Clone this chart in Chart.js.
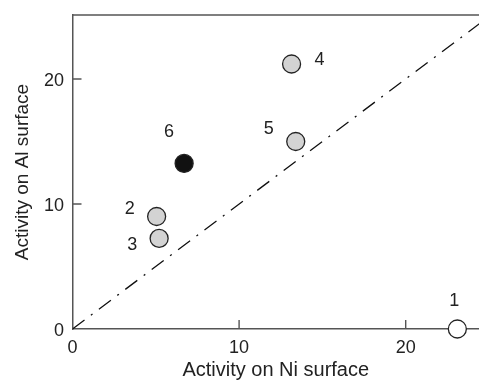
<!DOCTYPE html>
<html>
<head>
<meta charset="utf-8">
<script src="https://cdn.jsdelivr.net/npm/chart.js@4.4.1/dist/chart.umd.min.js"></script>
<style>
  html, body { margin: 0; padding: 0; background: #fff; }
  #wrap { width: 479px; height: 380px; }
</style>
</head>
<body>
<div id="wrap"><canvas id="activityChart" width="479" height="380"></canvas></div>
<script>
// Activity of each sample on the two surfaces
const sampleLabels = ['1', '2', '3', '4', '5', '6'];
const niActivity = [23.1, 5.05, 5.2, 13.15, 13.4, 6.7];
const alActivity = [0, 9.0, 7.25, 21.2, 15.0, 13.25];
const pointFills = ['#ffffff', '#d3d3d3', '#d3d3d3', '#d3d3d3', '#d3d3d3', '#111111'];

// y = x reference line
const parityLine = [0, 25];

// axis ticks
const xTicks = [0, 10, 20];
const yTicks = [0, 10, 20];

// where each number sits relative to its circle (px)
const labelOffsets = [[-3, -28], [-27, -7], [-27, 7], [28, -4], [-27, -12], [-15, -31]];

const FONT = "'Liberation Sans', Arial, Helvetica, sans-serif";
const AXIS_COLOR = '#555';

const innerTicks = {
    id: 'innerTicks',
    afterDatasetsDraw(chart) {
        const ctx = chart.ctx;
        const area = chart.chartArea;
        const x = chart.scales.x, y = chart.scales.y;
        ctx.save();
        ctx.strokeStyle = AXIS_COLOR;
        ctx.lineWidth = 1.4;
        ctx.beginPath();
        xTicks.forEach(v => {
            if (v === 0) return;
            const px = x.getPixelForValue(v);
            ctx.moveTo(px, area.bottom);
            ctx.lineTo(px, area.bottom - 9);
        });
        yTicks.forEach(v => {
            if (v === 0) return;
            const py = y.getPixelForValue(v);
            ctx.moveTo(area.left, py);
            ctx.lineTo(area.left + 9, py);
        });
        // top frame line
        ctx.moveTo(area.left, area.top);
        ctx.lineTo(area.right, area.top);
        ctx.stroke();
        ctx.restore();
    }
};

const numberLabels = {
    id: 'numberLabels',
    afterDatasetsDraw(chart) {
        const ctx = chart.ctx;
        const meta = chart.getDatasetMeta(1);
        ctx.save();
        ctx.font = '18px ' + FONT;
        ctx.fillStyle = '#222';
        ctx.textAlign = 'center';
        ctx.textBaseline = 'middle';
        meta.data.forEach((pt, i) => {
            const off = labelOffsets[i];
            ctx.fillText(sampleLabels[i], pt.x + off[0], pt.y + off[1]);
        });
        ctx.restore();
    }
};

const ctx = document.getElementById('activityChart').getContext('2d');
new Chart(ctx, {
    data: {
        datasets: [{
            type: 'line',
            data: parityLine.map(v => ({ x: v, y: v })),
            borderColor: '#111',
            borderWidth: 1.3,
            borderDash: [15, 8, 2, 8],
            pointRadius: 0,
            fill: false,
            order: 2
        }, {
            type: 'scatter',
            data: niActivity.map((v, i) => ({ x: v, y: alActivity[i] })),
            backgroundColor: pointFills,
            borderColor: '#222',
            borderWidth: 1.3,
            pointRadius: 9,
            pointHoverRadius: 9,
            clip: false,
            order: 1
        }]
    },
    options: {
        responsive: false,
        animation: false,
        layout: { autoPadding: false, padding: { top: 15, right: 0, left: 0, bottom: 0 } },
        plugins: {
            legend: { display: false },
            tooltip: { enabled: false }
        },
        scales: {
            x: {
                type: 'linear',
                min: 0,
                max: 24.4,
                afterFit(scale) {
                    scale.height = 51;
                    scale.paddingLeft = 0;
                    scale.paddingRight = 0;
                },
                grid: { display: false, drawTicks: false, tickLength: 0 },
                border: { display: true, color: AXIS_COLOR, width: 1.5 },
                ticks: {
                    stepSize: 10,
                    includeBounds: false,
                    padding: 8,
                    color: '#222',
                    font: { family: FONT, size: 18 }
                },
                title: {
                    display: true,
                    text: 'Activity on Ni surface',
                    color: '#222',
                    font: { family: FONT, size: 20, lineHeight: 1 },
                    padding: { top: 0, bottom: 0 }
                }
            },
            y: {
                type: 'linear',
                min: 0,
                max: 25.12,
                afterFit(scale) {
                    scale.width = 72.5;
                    scale.paddingTop = 0;
                    scale.paddingBottom = 0;
                },
                grid: { display: false, drawTicks: false, tickLength: 0 },
                border: { display: true, color: AXIS_COLOR, width: 1.5 },
                ticks: {
                    stepSize: 10,
                    includeBounds: false,
                    padding: 8.5,
                    labelOffset: 2,
                    color: '#222',
                    font: { family: FONT, size: 18 }
                },
                title: {
                    display: true,
                    text: 'Activity on Al surface',
                    color: '#222',
                    font: { family: FONT, size: 19, lineHeight: 1 },
                    padding: { top: 13, bottom: 0 }
                }
            }
        }
    },
    plugins: [innerTicks, numberLabels]
});
</script>
</body>
</html>
